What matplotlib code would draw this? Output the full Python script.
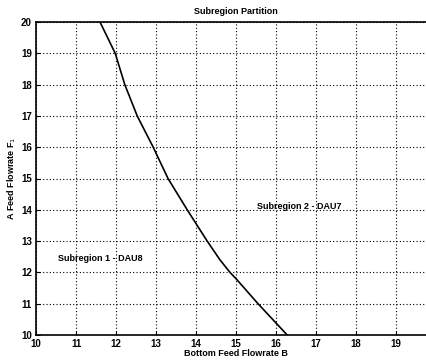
import matplotlib
matplotlib.use("Agg")
import matplotlib.pyplot as plt

plt.rcParams['font.family'] = ['Liberation Sans', 'DejaVu Sans']

# partition boundary between the two subregions
feed_b = [11.6, 11.98, 12.1, 12.22, 12.53, 12.93, 13.3, 13.78, 14.28, 14.6, 14.85, 15.0, 15.55, 16.28]
feed_f1 = [20.0, 19.0, 18.5, 18.0, 17.0, 16.0, 15.0, 14.0, 13.0, 12.4, 12.0, 11.8, 11.0, 10.0]

x_ticks = list(range(10, 20))
y_ticks = list(range(10, 21))

fig = plt.figure(figsize=(4.27, 3.6), dpi=100)
ax = fig.add_axes([36 / 427, 25 / 360, 400 / 427, 313 / 360])

ax.plot(feed_b, feed_f1, color="black", lw=1.2)

ax.set_xlim(10, 20)
ax.set_ylim(10, 20)
ax.set_xticks(x_ticks)
ax.set_yticks(y_ticks)
ax.tick_params(direction="in", length=3, labelsize=7, width=0.8, pad=3)
for lbl in ax.get_xticklabels() + ax.get_yticklabels():
    lbl.set_fontweight("bold")
ax.grid(True, color="black", linestyle=(0, (1, 2)), lw=0.8)

for s in ax.spines.values():
    s.set_linewidth(1.2)

ax.text(10.55, 12.45, "Subregion 1 - DAU8", fontsize=6.5, va="center", fontweight="bold")
ax.text(15.53, 14.12, "Subregion 2 - DAU7", fontsize=6.5, va="center", fontweight="bold")

ax.set_title("Subregion Partition", fontsize=6.5, pad=6, fontweight="bold")
ax.set_xlabel("Bottom Feed Flowrate B", fontsize=6.5, labelpad=0, fontweight="bold")
ax.set_ylabel("A Feed Flowrate F$_1$", fontsize=6.5, labelpad=2, fontweight="bold")

fig.savefig("out.png", dpi=100)
